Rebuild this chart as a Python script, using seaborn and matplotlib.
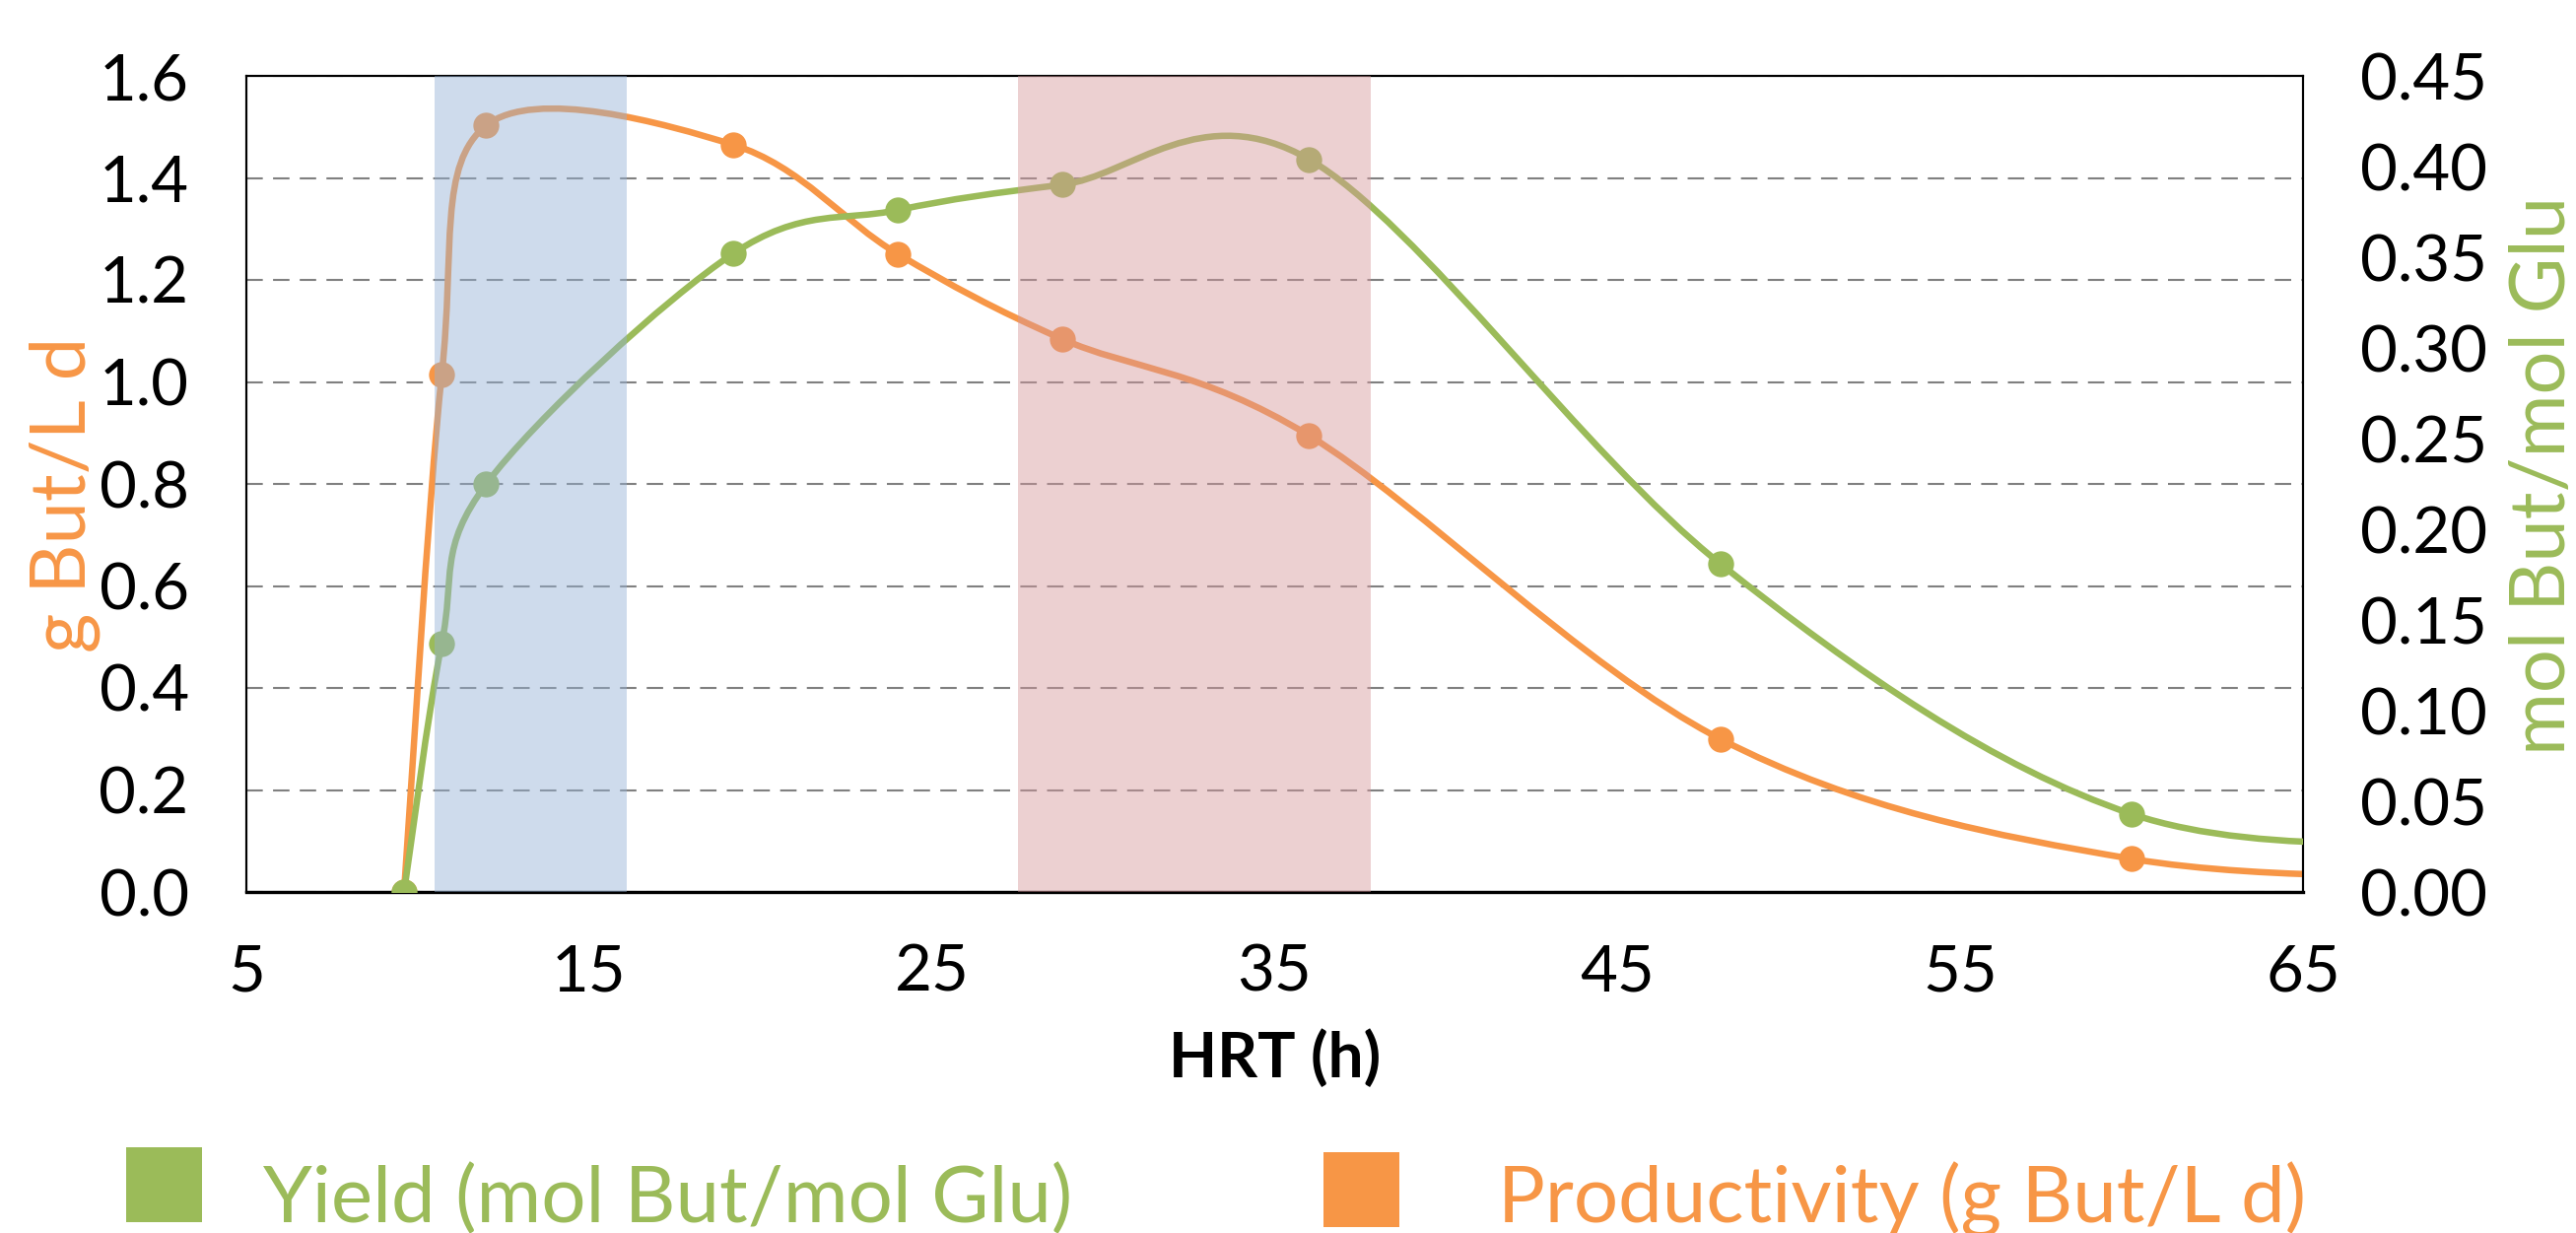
import numpy as np
import pandas as pd
import matplotlib
matplotlib.use("Agg")
import matplotlib.pyplot as plt
import seaborn as sns
from matplotlib.path import Path
from matplotlib.patches import PathPatch, Rectangle

# ---------------- data ----------------
# the last HRT (72 h) lies beyond the axis maximum of 65 h, so only its curve shows (clipped)
hrt = [9.6, 10.7, 12.0, 19.2, 24.0, 28.8, 36.0, 48.0, 60.0, 72.0]
productivity = [0.0, 1.014, 1.503, 1.465, 1.251, 1.084, 0.895, 0.300, 0.065, 0.028]   # g But/L d
yield_vals = [0.0, 0.137, 0.225, 0.352, 0.376, 0.390, 0.404, 0.181, 0.043, 0.028]     # mol But/mol Glu

blue_band = (10.5, 16.1)
red_band = (27.5, 37.8)

x_ticks = [5, 15, 25, 35, 45, 55, 65]
left_ticks = [0.0, 0.2, 0.4, 0.6, 0.8, 1.0, 1.2, 1.4, 1.6]
right_ticks = [0.00, 0.05, 0.10, 0.15, 0.20, 0.25, 0.30, 0.35, 0.40, 0.45]

legend_labels = ["Yield (mol But/mol Glu)", "Productivity (g But/L d)"]

ORANGE = "#F79646"
GREEN = "#9BBB59"

df = pd.DataFrame({"HRT": hrt, "Productivity": productivity, "Yield": yield_vals})

# ---------------- style ----------------
sns.set_theme(style="white")
plt.rcParams["font.family"] = ["Lato", "DejaVu Sans"]

W, H = 2614, 1251
fig = plt.figure(figsize=(W / 100, H / 100), dpi=100)
L, R, T, B = 250, 2337, 77, 905
ax = fig.add_axes([L / W, 1 - B / H, (R - L) / W, (B - T) / H])
ax2 = ax.twinx()

ax.set_xlim(5, 65)
ax.set_ylim(0, 1.6)
ax2.set_ylim(0, 0.45)


def excel_smooth(axis, xs, ys):
    """Excel-like smoothed line: cubic Bezier segments computed in display space."""
    pts = axis.transData.transform(np.column_stack([xs, ys]))
    n = len(pts)
    verts = [pts[0]]
    codes = [Path.MOVETO]
    for i in range(n - 1):
        p0 = pts[i - 1] if i > 0 else pts[i]
        p1 = pts[i]
        p2 = pts[i + 1]
        p3 = pts[i + 2] if i + 2 < n else pts[i + 1]
        d12 = np.hypot(*(p2 - p1))
        d02 = np.hypot(*(p2 - p0))
        d13 = np.hypot(*(p3 - p1))
        f1 = 1 / 6 if (d02 == 0 or d02 / 6 < d12 / 2) else (d12 / 2) / d02
        f2 = 1 / 6 if (d13 == 0 or d13 / 6 < d12 / 2) else (d12 / 2) / d13
        c1 = p1 + f1 * (p2 - p0)
        c2 = p2 - f2 * (p3 - p1)
        verts += [c1, c2, p2]
        codes += [Path.CURVE4] * 3
    verts = axis.transData.inverted().transform(np.array(verts))
    return Path(verts, codes)


# productivity (left axis)
prod_path = excel_smooth(ax, hrt, productivity)
ax.add_patch(PathPatch(prod_path, fill=False, edgecolor=ORANGE, lw=4.7,
                       capstyle="round", joinstyle="round", zorder=3))
sns.scatterplot(data=df, x="HRT", y="Productivity", ax=ax, color=ORANGE, s=360,
                linewidth=0, zorder=4, legend=False)

# yield (right axis)
yield_path = excel_smooth(ax2, hrt, yield_vals)
ax2.add_patch(PathPatch(yield_path, fill=False, edgecolor=GREEN, lw=4.7,
                        capstyle="round", joinstyle="round", zorder=3))
sns.scatterplot(data=df, x="HRT", y="Yield", ax=ax2, color=GREEN, s=360,
                linewidth=0, zorder=4, legend=False)

# shaded bands on top of both series
ax2.axvspan(*blue_band, color="#94B1D5", alpha=0.45, lw=0, zorder=6)
ax2.axvspan(*red_band, color="#D5979B", alpha=0.45, lw=0, zorder=6)

ax.set_xlim(5, 65)
ax.set_ylim(0, 1.6)
ax2.set_ylim(0, 0.45)

# ticks and grid
ax.set_yticks(left_ticks)
ax.set_yticklabels([f"{v:.1f}" for v in left_ticks])
ax2.set_yticks(right_ticks)
ax2.set_yticklabels([f"{v:.2f}" for v in right_ticks])
ax.set_xticks(x_ticks)
ax.set_xticklabels([str(v) for v in x_ticks])
ax.set_axisbelow(True)
ax.yaxis.grid(True, color="#808080", lw=1.5, linestyle=(0, (8, 5)))
ax.xaxis.grid(False)
ax2.grid(False)

ax.tick_params(axis="y", length=0, labelsize=47, pad=42, colors="black")
ax.tick_params(axis="x", length=0, labelsize=47, pad=38, colors="black")
ax2.tick_params(axis="y", length=0, labelsize=47, pad=42, colors="black")

for a in (ax, ax2):
    for s in a.spines.values():
        s.set_color("black")
        s.set_linewidth(1.5)
ax.spines["bottom"].set_linewidth(2.4)

ax.set_ylabel("g But/L d", color=ORANGE, fontsize=56)
ax.yaxis.set_label_coords((102 - L) / (R - L), 0.487)
ax2.set_ylabel("mol But/mol Glu", color=GREEN, fontsize=56)
ax2.yaxis.set_label_coords((2546 - L) / (R - L), 0.51)
ax.set_xlabel("HRT (h)", fontsize=46, fontweight="bold", color="black")
ax.xaxis.set_label_coords(0.5, (B - 1043) / (B - T))

# legend (squares + text under the chart)
fig.add_artist(Rectangle((128 / W, 1 - 1240 / H), 77 / W, 76 / H,
                         transform=fig.transFigure, color=GREEN, lw=0))
fig.text(267 / W, 1 - 1240 / H, legend_labels[0], color=GREEN, fontsize=57.5,
         ha="left", va="baseline")
fig.add_artist(Rectangle((1343 / W, 1 - 1245 / H), 77 / W, 76 / H,
                         transform=fig.transFigure, color=ORANGE, lw=0))
fig.text(1520 / W, 1 - 1240 / H, legend_labels[1], color=ORANGE, fontsize=57.5,
         ha="left", va="baseline")

fig.savefig("out.png", dpi=100, facecolor="white")
